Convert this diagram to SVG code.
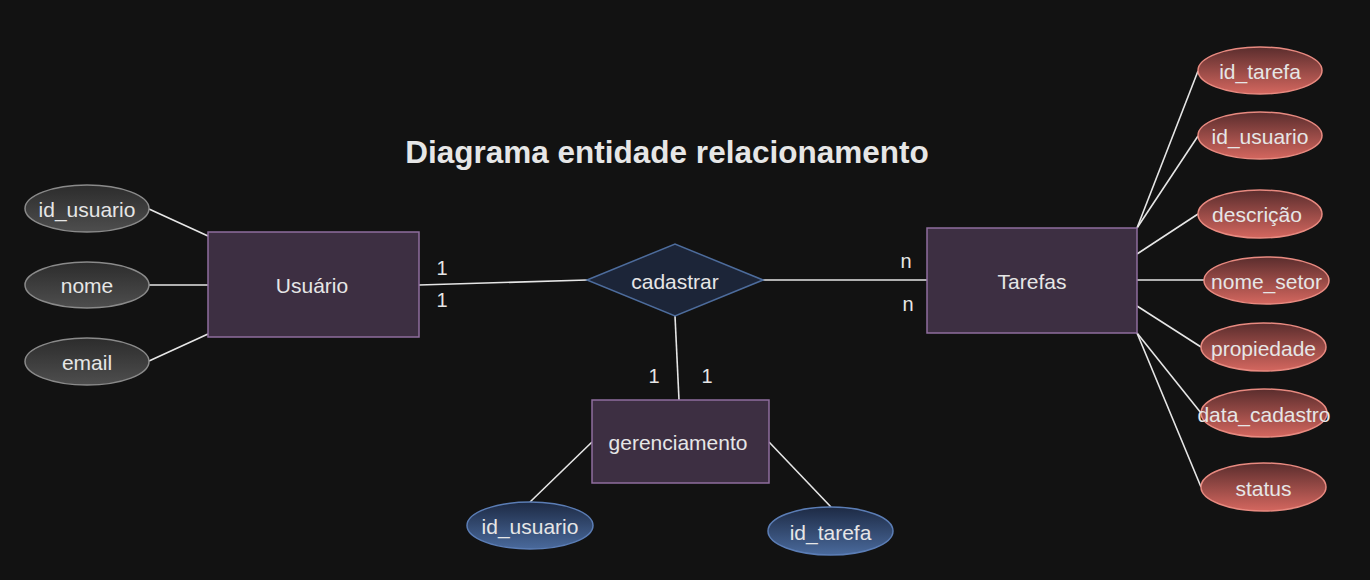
<svg xmlns="http://www.w3.org/2000/svg" width="1370" height="580" viewBox="0 0 1370 580">
<style>
text{font-family:"Liberation Sans",Arial,sans-serif;fill:#e6e6e6;font-size:21px;text-anchor:middle;dominant-baseline:central}
.ent{fill:#3d2f42;stroke:#8f6e9e;stroke-width:1.5}
.g{fill:url(#gg);stroke:#8a8a8a;stroke-width:1.5}
.r{fill:url(#gr);stroke:#e88a80;stroke-width:1.5}
.b{fill:url(#gb);stroke:#5b7db5;stroke-width:1.5}
.lnk line{stroke:#e6e6e6;stroke-width:1.6}
.card{font-size:20px}
.title{font-size:31.5px;font-weight:bold}
</style>
<defs>
<linearGradient id="gg" x1="0" y1="0" x2="0" y2="1"><stop offset="0" stop-color="#2c2c2c"/><stop offset="1" stop-color="#4e4e4e"/></linearGradient>
<linearGradient id="gr" x1="0" y1="0" x2="0" y2="1"><stop offset="0" stop-color="#5a2d2d"/><stop offset="1" stop-color="#d4675f"/></linearGradient>
<linearGradient id="gb" x1="0" y1="0" x2="0" y2="1"><stop offset="0" stop-color="#1d2a44"/><stop offset="1" stop-color="#4a6a9c"/></linearGradient>
</defs>
<rect width="1370" height="580" fill="#121212"/>
<text class="title" x="667" y="152">Diagrama entidade relacionamento</text>
<g class="lnk" id="connectors">
<line x1="149" y1="209" x2="208" y2="236"/>
<line x1="149" y1="285" x2="208" y2="285"/>
<line x1="149" y1="361" x2="208" y2="334"/>
<line x1="419" y1="285" x2="587" y2="280"/>
<line x1="763" y1="280" x2="927" y2="280"/>
<line x1="675" y1="316" x2="679" y2="400"/>
<line x1="592" y1="442" x2="530" y2="502"/>
<line x1="769" y1="442" x2="831" y2="507"/>
<line x1="1137" y1="228" x2="1198" y2="71"/>
<line x1="1137" y1="228" x2="1198" y2="136"/>
<line x1="1137" y1="254" x2="1198" y2="214"/>
<line x1="1137" y1="280" x2="1204" y2="280"/>
<line x1="1137" y1="306" x2="1201" y2="347"/>
<line x1="1137" y1="333" x2="1201" y2="413"/>
<line x1="1137" y1="333" x2="1201" y2="487"/>
</g>
<g id="card-labels">
<text class="card" x="442" y="268">1</text>
<text class="card" x="442" y="300">1</text>
<text class="card" x="906" y="261">n</text>
<text class="card" x="908" y="304">n</text>
<text class="card" x="654" y="376">1</text>
<text class="card" x="707" y="376">1</text>
</g>
<g id="usuario"><rect class="ent" x="208" y="232" width="211" height="105"/><text x="312" y="285">Usuário</text></g>
<g id="cadastrar"><polygon points="587,280 675,244 763,280 675,316" fill="#1c2538" stroke="#4d6c9c" stroke-width="1.5"/><text x="675" y="281">cadastrar</text></g>
<g id="tarefas"><rect class="ent" x="927" y="228" width="210" height="105"/><text x="1032" y="281">Tarefas</text></g>
<g id="gerenciamento"><rect class="ent" x="592" y="400" width="177" height="83"/><text x="678" y="442">gerenciamento</text></g>
<g id="u-id_usuario"><ellipse class="g" cx="87" cy="208.5" rx="62" ry="23.5"/><text x="87" y="209">id_usuario</text></g>
<g id="u-nome"><ellipse class="g" cx="87" cy="285" rx="62" ry="23"/><text x="87" y="285">nome</text></g>
<g id="u-email"><ellipse class="g" cx="87" cy="361.5" rx="62" ry="23.5"/><text x="87" y="362">email</text></g>
<g id="g-id_usuario"><ellipse class="b" cx="530" cy="525.5" rx="63" ry="23.5"/><text x="530" y="526">id_usuario</text></g>
<g id="g-id_tarefa"><ellipse class="b" cx="830.5" cy="531" rx="62.5" ry="24"/><text x="830.5" y="532">id_tarefa</text></g>
<g id="t-id_tarefa"><ellipse class="r" cx="1260" cy="70.5" rx="62" ry="23.5"/><text x="1260" y="71">id_tarefa</text></g>
<g id="t-id_usuario"><ellipse class="r" cx="1260" cy="135.5" rx="62" ry="23.5"/><text x="1260" y="136">id_usuario</text></g>
<g id="t-descricao"><ellipse class="r" cx="1260" cy="214" rx="62" ry="24"/><text x="1257" y="214">descrição</text></g>
<g id="t-nome_setor"><ellipse class="r" cx="1266.5" cy="280.5" rx="62.5" ry="23.5"/><text x="1266.5" y="281">nome_setor</text></g>
<g id="t-propiedade"><ellipse class="r" cx="1263.5" cy="347" rx="62.5" ry="24"/><text x="1263.5" y="348">propiedade</text></g>
<g id="t-data_cadastro"><ellipse class="r" cx="1264" cy="413" rx="63" ry="24"/><text x="1264" y="414">data_cadastro</text></g>
<g id="t-status"><ellipse class="r" cx="1263.5" cy="487" rx="62.5" ry="24"/><text x="1263.5" y="488">status</text></g>
</svg>
